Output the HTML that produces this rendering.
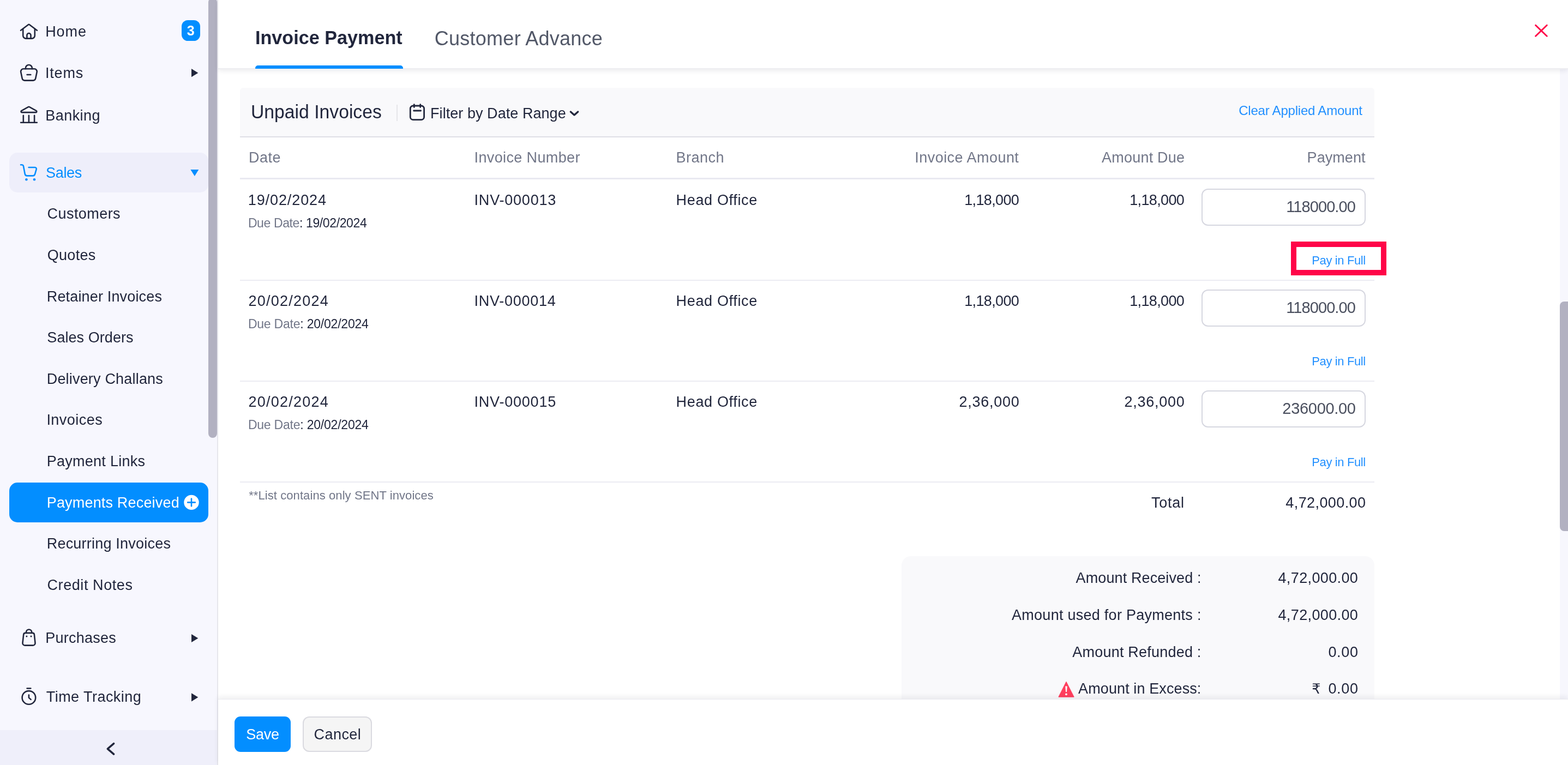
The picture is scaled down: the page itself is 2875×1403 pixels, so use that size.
<!DOCTYPE html>
<html lang="en"><head><meta charset="utf-8"><title>Payments Received</title><style>
html,body{margin:0;padding:0;width:2875px;height:1403px;overflow:hidden;background:#fff;}
#app{position:relative;width:2875px;height:1403px;overflow:hidden;background:#fff;font-family:"Liberation Sans",sans-serif;}
.t{position:absolute;white-space:nowrap;margin:0;}
.b{position:absolute;display:block;}
svg{overflow:visible;}
</style></head>
<body>
<div id="app">
<nav id="sidebar" aria-label="Main navigation">
<div class="b" style="left:0px;top:0px;width:398.40px;height:1403.00px;background:#f7f7fe;"></div>
<div class="b" style="left:398.4px;top:0px;width:2.00px;height:1403.00px;background:#e6e6ec;"></div>
<div class="b" style="left:0px;top:1339px;width:398.40px;height:64.00px;background:#efeffa;"></div>
<div class="b" style="left:382.3px;top:-4px;width:15.90px;height:807.00px;background:#b2b1c1;border-radius:8px;"></div>
<div class="b" style="left:17.2px;top:280.1px;width:364.80px;height:73.10px;background:#eeeefa;border-radius:15px;"></div>
<div class="b" style="left:17.2px;top:885.2px;width:364.80px;height:72.60px;background:#038eff;border-radius:15px;"></div>
<div class="b" style="left:332.7px;top:36.9px;width:34.70px;height:38.20px;background:#038eff;border-radius:11.5px;"></div>
<div class="t" id="badge" style="top:43.90px;font-size:25px;line-height:25px;color:#fff;font-weight:700;left:342.77px;">3</div>
<div class="t" id="home" style="top:45.21px;font-size:27px;line-height:27px;color:#21263c;letter-spacing:0.887px;left:83.22px;">Home</div>
<div class="t" id="items" style="top:120.80px;font-size:27px;line-height:27px;color:#21263c;letter-spacing:0.82px;left:82.96px;">Items</div>
<div class="t" id="banking" style="top:198.50px;font-size:27px;line-height:27px;color:#21263c;letter-spacing:0.463px;left:83.22px;">Banking</div>
<div class="t" id="sales" style="top:304.00px;font-size:27px;line-height:27px;color:#038eff;letter-spacing:-0.287px;left:83.96px;">Sales</div>
<div class="t" id="purchases" style="top:1156.60px;font-size:27px;line-height:27px;color:#21263c;letter-spacing:0.232px;left:83.22px;">Purchases</div>
<div class="t" id="timetracking" style="top:1265.10px;font-size:27px;line-height:27px;color:#21263c;letter-spacing:0.455px;left:84.76px;">Time Tracking</div>
<div class="t" id="sub0" style="top:379.30px;font-size:27px;line-height:27px;color:#21263c;letter-spacing:0.444px;left:86.54px;">Customers</div>
<div class="t" id="sub1" style="top:454.90px;font-size:27px;line-height:27px;color:#21263c;letter-spacing:0.333px;left:86.64px;">Quotes</div>
<div class="t" id="sub2" style="top:530.50px;font-size:27px;line-height:27px;color:#21263c;letter-spacing:0.163px;left:85.73px;">Retainer Invoices</div>
<div class="t" id="sub3" style="top:606.10px;font-size:27px;line-height:27px;color:#21263c;letter-spacing:0.055px;left:86.35px;">Sales Orders</div>
<div class="t" id="sub4" style="top:681.71px;font-size:27px;line-height:27px;color:#21263c;letter-spacing:0.188px;left:85.73px;">Delivery Challans</div>
<div class="t" id="sub5" style="top:757.30px;font-size:27px;line-height:27px;color:#21263c;letter-spacing:0.481px;left:85.38px;">Invoices</div>
<div class="t" id="sub6" style="top:832.90px;font-size:27px;line-height:27px;color:#21263c;letter-spacing:0.264px;left:85.73px;">Payment Links</div>
<div class="t" id="sub7" style="top:908.50px;font-size:27px;line-height:27px;color:#fff;letter-spacing:0.178px;left:85.73px;">Payments Received</div>
<div class="t" id="sub8" style="top:984.10px;font-size:27px;line-height:27px;color:#21263c;letter-spacing:0.21px;left:85.73px;">Recurring Invoices</div>
<div class="t" id="sub9" style="top:1059.71px;font-size:27px;line-height:27px;color:#21263c;letter-spacing:0.574px;left:86.54px;">Credit Notes</div>
<svg class="b" style="left:34px;top:40px;" width="38" height="36" viewBox="34 40 38 36" aria-hidden="true"><g stroke="#21263c" stroke-width="2.6" stroke-linecap="round" stroke-linejoin="round" fill="none"><path d="M38 55.7 L51.9 45.2 a1.7 1.7 0 0 1 2.1 0 L67.9 55.7"/><path d="M42.2 52.8 V65.2 a5.4 5.4 0 0 0 5.4 5.4 H58.4 a5.4 5.4 0 0 0 5.4 -5.4 V52.8"/><path d="M49.4 70.4 V64.6 a3.55 3.55 0 0 1 7.1 0 V70.4"/></g></svg>
<svg class="b" style="left:34px;top:114px;" width="38" height="38" viewBox="34 114 38 38" aria-hidden="true"><g stroke="#21263c" stroke-width="2.6" stroke-linecap="round" stroke-linejoin="round" fill="none"><path d="M46.9 126.2 v-1.2 a6 6 0 0 1 12 0 v1.2"/><path d="M43 126.3 H62.9 a4.9 4.9 0 0 1 4.8 5.8 L65.3 143.6 a4.9 4.9 0 0 1 -4.8 4 H45.4 a4.9 4.9 0 0 1 -4.8 -4 L38.2 132.1 a4.9 4.9 0 0 1 4.8 -5.8 Z"/><path d="M49.6 137 H56.3"/></g></svg>
<svg class="b" style="left:34px;top:190px;" width="38" height="40" viewBox="34 190 38 40" aria-hidden="true"><g stroke="#21263c" stroke-width="2.6" stroke-linecap="round" stroke-linejoin="round" fill="none"><path d="M51.9 196.2 a2.1 2.1 0 0 1 2 0 L66.5 203.1 a1.6 1.6 0 0 1 -0.7 3 H40.1 a1.6 1.6 0 0 1 -0.7 -3 Z"/><path d="M42.8 211.7 V224"/><path d="M52.9 211.7 V224"/><path d="M63.1 211.7 V224"/><path d="M38.1 224.8 H67.8"/></g></svg>
<svg class="b" style="left:34px;top:296px;" width="38" height="40" viewBox="34 296 38 40" aria-hidden="true"><g stroke="#038eff" stroke-width="2.6" stroke-linecap="round" stroke-linejoin="round" fill="none"><path d="M38 302.2 h1.9 a3.2 3.2 0 0 1 3.1 2.5 L45.7 318.9 a4.3 4.3 0 0 0 4.2 3.5 H60 a4.3 4.3 0 0 0 4.1 -3.1 L66.7 310.4 a2.7 2.7 0 0 0 -2.6 -3.4 H52.6"/></g><circle cx="48.4" cy="329.2" r="2.3" fill="#038eff"/><circle cx="63" cy="329.2" r="2.3" fill="#038eff"/></svg>
<svg class="b" style="left:34px;top:1148px;" width="38" height="40" viewBox="34 1148 38 40" aria-hidden="true"><g stroke="#21263c" stroke-width="2.6" stroke-linecap="round" stroke-linejoin="round" fill="none"><path d="M48 1160.6 v-1 a5.1 5.1 0 0 1 10.2 0 v1"/><path d="M46.5 1160.9 H59.6 a3.3 3.3 0 0 1 3.3 2.9 L64.5 1179.1 a4 4 0 0 1 -4 4.5 H45.5 a4 4 0 0 1 -4 -4.5 L43.2 1163.8 a3.3 3.3 0 0 1 3.3 -2.9 Z"/></g><circle cx="48.9" cy="1167.1" r="1.5" fill="#21263c"/><circle cx="57" cy="1167.1" r="1.5" fill="#21263c"/></svg>
<svg class="b" style="left:34px;top:1256px;" width="38" height="40" viewBox="34 1256 38 40" aria-hidden="true"><g stroke="#21263c" stroke-width="2.6" stroke-linecap="round" stroke-linejoin="round" fill="none"><path d="M49.6 1262.5 H56.3"/><circle cx="52.9" cy="1279.4" r="12.3"/><path d="M52.9 1274.6 V1279.6 L56.6 1282.9"/></g></svg>
<svg class="b" style="left:346px;top:122px;" width="24" height="24" viewBox="346 122 24 24" aria-hidden="true"><polygon points="351,126.1 363.3,133.7 351,141.29999999999998" fill="#21263c"/></svg>
<svg class="b" style="left:346px;top:1158px;" width="24" height="24" viewBox="346 1158 24 24" aria-hidden="true"><polygon points="351,1162.9 363.3,1170.5 351,1178.1" fill="#21263c"/></svg>
<svg class="b" style="left:346px;top:1267px;" width="24" height="24" viewBox="346 1267 24 24" aria-hidden="true"><polygon points="351,1271.2 363.3,1278.8 351,1286.3999999999999" fill="#21263c"/></svg>
<svg class="b" style="left:344px;top:304px;" width="26" height="26" viewBox="344 304 26 26" aria-hidden="true"><polygon points="349.4,311 364.3,311 356.85,323" fill="#038eff"/></svg>
<svg class="b" style="left:334px;top:904px;" width="34" height="34" viewBox="334 904 34 34" aria-hidden="true"><circle cx="351" cy="921.4" r="13.7" fill="#fff"/><path d="M344.2 921.4 H357.8 M351 914.6 V928.2" stroke="#038eff" stroke-width="2.6" stroke-linecap="round" fill="none"/></svg>
<svg class="b" style="left:188px;top:1356px;" width="30" height="34" viewBox="188 1356 30 34" aria-hidden="true"><path d="M208.6 1363.7 L197.3 1373.4 L208.6 1383.1" stroke="#21263c" stroke-width="3.6" stroke-linecap="round" stroke-linejoin="round" fill="none"/></svg>
</nav>
<main id="main">
<div class="b" style="left:2859.8px;top:126px;width:15.20px;height:1157.00px;background:#f7f7fd;"></div>
<div class="b" style="left:2859.8px;top:552.9px;width:35.20px;height:420.90px;background:#b2b1c1;border-radius:8px;"></div>
<div class="b" style="left:400.4px;top:0;width:2474.6px;height:125px;background:#fff;border-bottom:2px solid #ededf1;box-shadow:0 3px 8px rgba(30,30,60,0.085);"></div>
<div class="t" id="tab1" style="top:51.21px;font-size:35.3px;line-height:35.3px;color:#21263c;font-weight:700;left:468.36px;transform:scaleX(0.9679);transform-origin:0 0;">Invoice Payment</div>
<div class="t" id="tab2" style="top:53.40px;font-size:36px;line-height:36px;color:#525868;letter-spacing:0.256px;left:796.81px;">Customer Advance</div>
<div class="b" style="left:467.9px;top:120.2px;width:271.40px;height:6.30px;background:#038eff;border-radius:5px 5px 0 0;"></div>
<svg class="b" style="left:2808px;top:38px;" width="36" height="36" viewBox="2808 38 36 36" aria-hidden="true"><path d="M2815.6 46.3 L2836.3 66.3 M2836.3 46.3 L2815.6 66.3" stroke="#ff0548" stroke-width="2.9" stroke-linecap="round" fill="none"/></svg>
<div class="b" style="left:440.4px;top:161px;width:2079.80px;height:89.20px;background:#f9f9fb;border-radius:6px 6px 0 0;"></div>
<div class="b" style="left:440.4px;top:250.4px;width:2079.80px;height:1.90px;background:#dfdfe6;"></div>
<div class="t" id="unpaid" style="top:186.51px;font-size:35.3px;line-height:35.3px;color:#21263c;left:459.76px;transform:scaleX(0.9549);transform-origin:0 0;">Unpaid Invoices</div>
<div class="b" style="left:726.8px;top:191.5px;width:2.00px;height:30.50px;background:#e6e6ea;"></div>
<svg class="b" style="left:746px;top:186px;" width="38" height="40" viewBox="746 186 38 40" aria-hidden="true"><g stroke="#21263c" stroke-width="2.8" stroke-linecap="round" stroke-linejoin="round" fill="none"><rect x="752.3" y="194" width="25.3" height="25.6" rx="5.2"/><path d="M759.3 191.6 V196.6 M770.7 191.6 V196.6 M758.6 203 H771.6"/></g></svg>
<div class="t" id="filter" style="top:194.50px;font-size:27px;line-height:27px;color:#21263c;letter-spacing:0.051px;left:789.09px;">Filter by Date Range</div>
<svg class="b" style="left:1040px;top:198px;" width="26" height="20" viewBox="1040 198 26 20" aria-hidden="true"><path d="M1046.3 204.9 L1053 210.9 L1059.7 204.9" stroke="#21263c" stroke-width="3.3" stroke-linecap="round" stroke-linejoin="round" fill="none"/></svg>
<div class="t" id="clear" style="top:190.71px;font-size:24px;line-height:24px;color:#2290ff;letter-spacing:-0.207px;right:377.16px;text-align:right;">Clear Applied Amount</div>
<div class="t" id="h_date" style="top:275.71px;font-size:27px;line-height:27px;color:#717688;letter-spacing:0.532px;left:455.96px;">Date</div>
<div class="t" id="h_inv" style="top:275.71px;font-size:27px;line-height:27px;color:#717688;letter-spacing:0.373px;left:869.56px;">Invoice Number</div>
<div class="t" id="h_branch" style="top:275.71px;font-size:27px;line-height:27px;color:#717688;letter-spacing:0.479px;left:1239.56px;">Branch</div>
<div class="t" id="h_iamt" style="top:275.71px;font-size:27px;line-height:27px;color:#717688;letter-spacing:0.46px;right:1006.68px;text-align:right;">Invoice Amount</div>
<div class="t" id="h_due" style="top:275.71px;font-size:27px;line-height:27px;color:#717688;letter-spacing:0.214px;right:702.74px;text-align:right;">Amount Due</div>
<div class="t" id="h_pay" style="top:275.71px;font-size:27px;line-height:27px;color:#717688;letter-spacing:0.048px;right:371.51px;text-align:right;">Payment</div>
<div class="b" style="left:440.4px;top:326.4px;width:2079.80px;height:3.00px;background:#e9e9f1;"></div>
<div class="t" id="r0_date" style="top:354.10px;font-size:27px;line-height:27px;color:#21263c;letter-spacing:0.908px;left:454.74px;">19/02/2024</div>
<div class="t" id="r0_due" style="top:397.81px;font-size:23px;line-height:23px;color:#21263c;letter-spacing:-0.382px;left:454.90px;"><span style="color:#717688">Due Date</span>: 19/02/2024</div>
<div class="t" id="r0_inv" style="top:354.10px;font-size:27px;line-height:27px;color:#21263c;letter-spacing:0.794px;left:869.56px;">INV-000013</div>
<div class="t" id="r0_branch" style="top:354.10px;font-size:27px;line-height:27px;color:#21263c;letter-spacing:0.664px;left:1239.56px;">Head Office</div>
<div class="t" id="r0_iamt" style="top:354.10px;font-size:27px;line-height:27px;color:#21263c;letter-spacing:-0.637px;right:1006.82px;text-align:right;">1,18,000</div>
<div class="t" id="r0_damt" style="top:354.10px;font-size:27px;line-height:27px;color:#21263c;letter-spacing:-0.644px;right:703.83px;text-align:right;">1,18,000</div>
<div class="b" style="left:2203px;top:346.40px;width:301px;height:67.4px;box-sizing:border-box;border:2px solid #d6d7e0;border-radius:12px;background:#fff;"></div>
<div class="t" id="r0_pay" style="top:364.81px;font-size:29px;line-height:29px;color:#4b505f;letter-spacing:-0.909px;right:390.05px;text-align:right;">118000.00</div>
<div class="t" id="r0_pif" style="top:466.50px;font-size:22px;line-height:22px;color:#2290ff;letter-spacing:-0.375px;right:371.16px;text-align:right;">Pay in Full</div>
<div class="b" style="left:440.4px;top:513.3px;width:2079.80px;height:1.80px;background:#ebebf2;"></div>
<div class="t" id="r1_date" style="top:539.10px;font-size:27px;line-height:27px;color:#21263c;letter-spacing:1.257px;left:455.45px;">20/02/2024</div>
<div class="t" id="r1_due" style="top:582.81px;font-size:23px;line-height:23px;color:#21263c;letter-spacing:-0.214px;left:454.90px;"><span style="color:#717688">Due Date</span>: 20/02/2024</div>
<div class="t" id="r1_inv" style="top:539.10px;font-size:27px;line-height:27px;color:#21263c;letter-spacing:0.74px;left:869.56px;">INV-000014</div>
<div class="t" id="r1_branch" style="top:539.10px;font-size:27px;line-height:27px;color:#21263c;letter-spacing:0.664px;left:1239.56px;">Head Office</div>
<div class="t" id="r1_iamt" style="top:539.10px;font-size:27px;line-height:27px;color:#21263c;letter-spacing:-0.637px;right:1006.82px;text-align:right;">1,18,000</div>
<div class="t" id="r1_damt" style="top:539.10px;font-size:27px;line-height:27px;color:#21263c;letter-spacing:-0.644px;right:703.83px;text-align:right;">1,18,000</div>
<div class="b" style="left:2203px;top:531.40px;width:301px;height:67.4px;box-sizing:border-box;border:2px solid #d6d7e0;border-radius:12px;background:#fff;"></div>
<div class="t" id="r1_pay" style="top:549.81px;font-size:29px;line-height:29px;color:#4b505f;letter-spacing:-0.909px;right:390.05px;text-align:right;">118000.00</div>
<div class="t" id="r1_pif" style="top:651.50px;font-size:22px;line-height:22px;color:#2290ff;letter-spacing:-0.375px;right:371.16px;text-align:right;">Pay in Full</div>
<div class="b" style="left:440.4px;top:698.3px;width:2079.80px;height:1.80px;background:#ebebf2;"></div>
<div class="t" id="r2_date" style="top:724.10px;font-size:27px;line-height:27px;color:#21263c;letter-spacing:1.257px;left:455.45px;">20/02/2024</div>
<div class="t" id="r2_due" style="top:767.81px;font-size:23px;line-height:23px;color:#21263c;letter-spacing:-0.214px;left:454.90px;"><span style="color:#717688">Due Date</span>: 20/02/2024</div>
<div class="t" id="r2_inv" style="top:724.10px;font-size:27px;line-height:27px;color:#21263c;letter-spacing:0.788px;left:869.56px;">INV-000015</div>
<div class="t" id="r2_branch" style="top:724.10px;font-size:27px;line-height:27px;color:#21263c;letter-spacing:0.664px;left:1239.56px;">Head Office</div>
<div class="t" id="r2_iamt" style="top:724.10px;font-size:27px;line-height:27px;color:#21263c;letter-spacing:0.747px;right:1005.44px;text-align:right;">2,36,000</div>
<div class="t" id="r2_damt" style="top:724.10px;font-size:27px;line-height:27px;color:#21263c;letter-spacing:0.739px;right:702.44px;text-align:right;">2,36,000</div>
<div class="b" style="left:2203px;top:716.40px;width:301px;height:67.4px;box-sizing:border-box;border:2px solid #d6d7e0;border-radius:12px;background:#fff;"></div>
<div class="t" id="r2_pay" style="top:734.81px;font-size:29px;line-height:29px;color:#4b505f;letter-spacing:-0.3px;right:389.31px;text-align:right;">236000.00</div>
<div class="t" id="r2_pif" style="top:836.50px;font-size:22px;line-height:22px;color:#2290ff;letter-spacing:-0.375px;right:371.16px;text-align:right;">Pay in Full</div>
<div class="b" style="left:440.4px;top:883.3px;width:2079.80px;height:1.80px;background:#ebebf2;"></div>
<div class="b" style="left:2367px;top:443px;width:175px;height:62px;box-sizing:border-box;border:10px solid #ff0548;"></div>
<div class="t" id="note" style="top:898.21px;font-size:22px;line-height:22px;color:#717688;letter-spacing:0.083px;left:456.16px;">**List contains only SENT invoices</div>
<div class="t" id="total_l" style="top:909.00px;font-size:27px;line-height:27px;color:#21263c;letter-spacing:0.735px;right:703.21px;text-align:right;">Total</div>
<div class="t" id="total_v" style="top:909.00px;font-size:27px;line-height:27px;color:#21263c;letter-spacing:0.405px;right:370.55px;text-align:right;">4,72,000.00</div>
<div class="b" style="left:1653.4px;top:1019.8px;width:866.30px;height:280.20px;background:#f9f9fb;border-radius:17px;"></div>
<div class="t" id="s0_l" style="top:1046.80px;font-size:27px;line-height:27px;color:#21263c;letter-spacing:0.106px;right:672.48px;text-align:right;">Amount Received :</div>
<div class="t" id="s0_v" style="top:1046.80px;font-size:27px;line-height:27px;color:#21263c;letter-spacing:0.371px;right:384.81px;text-align:right;">4,72,000.00</div>
<div class="t" id="s1_l" style="top:1114.68px;font-size:27px;line-height:27px;color:#21263c;letter-spacing:0.267px;right:672.35px;text-align:right;">Amount used for Payments :</div>
<div class="t" id="s1_v" style="top:1114.68px;font-size:27px;line-height:27px;color:#21263c;letter-spacing:0.371px;right:384.81px;text-align:right;">4,72,000.00</div>
<div class="t" id="s2_l" style="top:1182.55px;font-size:27px;line-height:27px;color:#21263c;letter-spacing:0.211px;right:672.42px;text-align:right;">Amount Refunded :</div>
<div class="t" id="s2_v" style="top:1182.55px;font-size:27px;line-height:27px;color:#21263c;letter-spacing:0.637px;right:384.45px;text-align:right;">0.00</div>
<div class="t" id="s3_l" style="top:1250.41px;font-size:27px;line-height:27px;color:#21263c;letter-spacing:0.104px;right:672.54px;text-align:right;">Amount in Excess:</div>
<div class="t" id="s3_v" style="top:1250.41px;font-size:27px;line-height:27px;color:#21263c;letter-spacing:0.637px;right:384.45px;text-align:right;">0.00</div>
<div class="t" id="rupee" style="top:1251.41px;font-size:25.5px;line-height:25.5px;color:#21263c;left:2405.28px;font-family:'DejaVu Sans',sans-serif;">₹</div>
<svg class="b" style="left:1938px;top:1246px;" width="34" height="36" viewBox="1938 1246 34 36" aria-hidden="true"><path d="M1955 1250.3 L1969.2 1278.2 H1940.9 Z" fill="#ff3f5e" stroke="#ff3f5e" stroke-width="1" stroke-linejoin="round"/><path d="M1953.3 1258.4 h3.5 l-0.8 10.6 h-1.9 Z" fill="#fff"/><circle cx="1955" cy="1273.3" r="1.9" fill="#fff"/></svg>
<div class="b" style="left:400.4px;top:1282px;width:2474.6px;height:121px;background:#fff;box-shadow:0 -4px 9px rgba(30,30,60,0.075);border-top:1px solid #ececf1;"></div>
<div class="b" style="left:430.1px;top:1313.5px;width:103.40px;height:65.30px;background:#038eff;border-radius:11px;"></div>
<div class="t" id="save" style="top:1334.10px;font-size:27px;line-height:27px;color:#fff;letter-spacing:-0.248px;left:451.35px;">Save</div>
<div class="b" style="left:555px;top:1313.5px;width:126.7px;height:65.3px;box-sizing:border-box;border:2px solid #dadae0;border-radius:12px;background:#f5f5f5;"></div>
<div class="t" id="cancel" style="top:1334.10px;font-size:27px;line-height:27px;color:#21263c;letter-spacing:0.449px;left:575.55px;">Cancel</div>
</main>
</div>
</body></html>
